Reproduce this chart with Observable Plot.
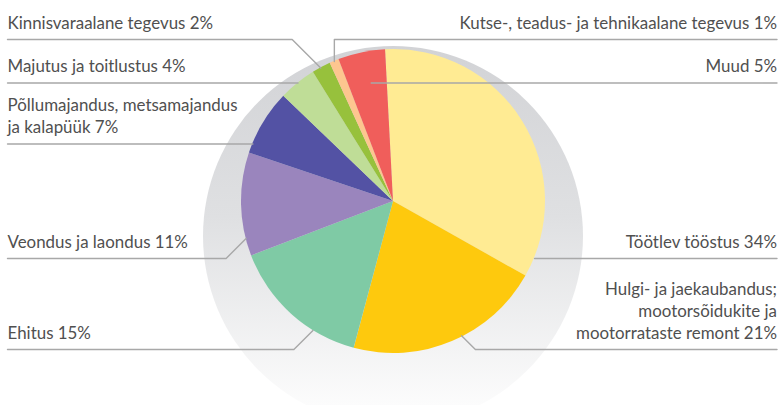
<!DOCTYPE html>
<html><head><meta charset="utf-8">
<script src="https://cdn.jsdelivr.net/npm/d3@7"></script>
<script src="https://cdn.jsdelivr.net/npm/@observablehq/plot@0.6"></script>
<style>
html,body{margin:0;padding:0;background:#fff}
#chart svg{display:block}
</style>
</head><body><div id="chart"></div>
<script>
// ---- data ----
const categories = [
  "Töötlev tööstus",
  "Hulgi- ja jaekaubandus; mootorsõidukite ja mootorrataste remont",
  "Ehitus",
  "Veondus ja laondus",
  "Põllumajandus, metsamajandus ja kalapüük",
  "Majutus ja toitlustus",
  "Kinnisvaraalane tegevus",
  "Kutse-, teadus- ja tehnikaalane tegevus",
  "Muud"
];
const shares = [34, 21, 15, 11, 7, 4, 2, 1, 5];
const labelTexts = [
  "Töötlev tööstus 34%",
  "Hulgi- ja jaekaubandus;\nmootorsõidukite ja\nmootorrataste remont 21%",
  "Ehitus 15%",
  "Veondus ja laondus 11%",
  "Põllumajandus, metsamajandus\nja kalapüük 7%",
  "Majutus ja toitlustus 4%",
  "Kinnisvaraalane tegevus 2%",
  "Kutse-, teadus- ja tehnikaalane tegevus 1%",
  "Muud 5%"
];
const colors = ["#ffeb93", "#fec90d", "#7fcaa5", "#9a85bd", "#5352a4", "#bfdd97", "#97c13c", "#fdc68f", "#f05e5b"];

// ---- layout (not data) ----
const W = 780, H = 405;
const pieCenter = [393, 201];
const pieRadius = 152;
const startDeg = -3;
const shadowCenter = [393, 236];
const shadowRadius = 190;
const labelSide = ["right", "right", "left", "left", "left", "left", "left", "right", "right"];
const ruleY = [258, 349, 349, 258, 143.5, 82.5, 39, 39, 82.5];
const anchorDeg = [111.9, 153.1, 212, 255.9, 292.3, 321.1, 331.4, 337.1, 349.3];
const anchorFrac = [1, 0.99, 1, 1, 1, 1, 1, 1, 0.79];
const bend = ["h", "d", "d", "d", "h", "h", "d", "v", "h"];
const leftX = 7, rightX = 776.5;
const fontSize = 16.9, lineGap = 21.7;

const rad = d => d * Math.PI / 180;

// leader lines built from layout + pie geometry
const leaderPts = [];
categories.forEach((c, i) => {
  const a = rad(anchorDeg[i]);
  const r = pieRadius * anchorFrac[i];
  let ax = pieCenter[0] + r * Math.sin(a);
  let ay = pieCenter[1] - r * Math.cos(a);
  const yy = ruleY[i];
  const edge = labelSide[i] === "left" ? leftX : rightX;
  const pts = [[edge, yy]];
  if (bend[i] === "h") { pts.push([ax, yy]); }
  else if (bend[i] === "v") { pts.push([ax, yy]); pts.push([ax, ay]); }
  else {
    const dy = Math.abs(yy - ay);
    const ex = ax < edge ? ax + dy : ax - dy;
    pts.push([ex, yy]); pts.push([ax, ay]);
  }
  pts.forEach(([x, y]) => leaderPts.push({cat: c, x, y}));
});

const labels = categories.map((c, i) => ({
  cat: c, text: labelTexts[i], side: labelSide[i],
  x: labelSide[i] === "left" ? leftX : rightX,
  y: ruleY[i] - 11
}));

const shadowMark = (index, {x, y}) => {
  const g = d3.create("svg:g");
  const defs = g.append("defs");
  const lg = defs.append("linearGradient").attr("id", "shadowGrad")
    .attr("x1", 0).attr("y1", 0).attr("x2", 0).attr("y2", 1);
  lg.append("stop").attr("offset", "0%").attr("stop-color", "#d2d3d6");
  lg.append("stop").attr("offset", "45%").attr("stop-color", "#dfe0e2");
  lg.append("stop").attr("offset", "100%").attr("stop-color", "#ffffff");
  const cx = x(shadowCenter[0]), cy = y(shadowCenter[1]);
  const r = x(shadowCenter[0] + shadowRadius) - cx;
  g.append("circle").attr("cx", cx).attr("cy", cy).attr("r", r).attr("fill", "url(#shadowGrad)");
  return g.node();
};

const pieMark = (index, {x, y}) => {
  const g = d3.create("svg:g");
  const cx = x(pieCenter[0]), cy = y(pieCenter[1]);
  const r = x(pieCenter[0] + pieRadius) - cx;
  const arcs = d3.pie().sort(null).value(d => d).startAngle(rad(startDeg)).endAngle(rad(startDeg + 360))(shares);
  const arc = d3.arc().innerRadius(0).outerRadius(r);
  g.attr("transform", `translate(${cx},${cy})`);
  g.selectAll("path").data(arcs).join("path")
    .attr("d", arc).attr("fill", (d, i) => colors[i]);
  return g.node();
};

const chart = Plot.plot({
  width: W, height: H, margin: 0,
  x: {domain: [0, W], range: [0, W], axis: null},
  y: {domain: [0, H], range: [0, H], axis: null},
  style: {fontFamily: "Lato, 'Open Sans', sans-serif", background: "#fff"},
  marks: [
    shadowMark,
    pieMark,
    Plot.line(leaderPts, {x: "x", y: "y", z: "cat", stroke: "#a8a8a8", strokeWidth: 1.4, curve: "linear"}),
    Plot.text(labels.filter(d => d.side === "left"), {x: "x", y: "y", text: "text", textAnchor: "start", lineAnchor: "bottom", lineHeight: lineGap / fontSize, fontSize, fill: "#505050"}),
    Plot.text(labels.filter(d => d.side === "right"), {x: "x", y: "y", text: "text", textAnchor: "end", lineAnchor: "bottom", lineHeight: lineGap / fontSize, fontSize, fill: "#505050"})
  ]
});
document.getElementById("chart").appendChild(chart);
</script>
</body></html>
